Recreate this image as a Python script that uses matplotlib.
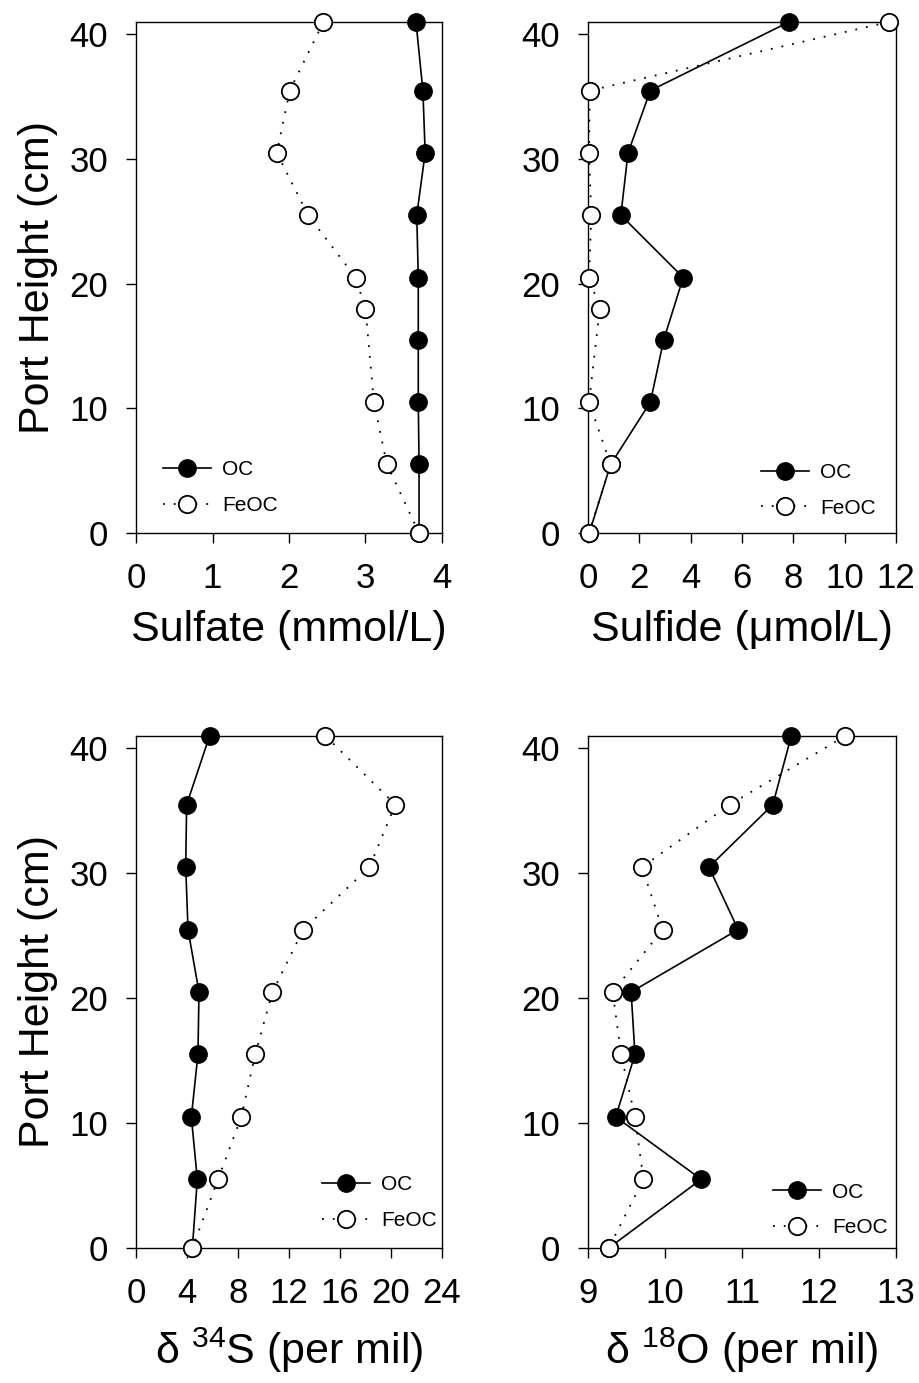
import matplotlib
matplotlib.use("Agg")
import matplotlib.pyplot as plt

plt.rcParams['font.family'] = ['Liberation Sans', 'DejaVu Sans']
plt.rcParams['mathtext.fontset'] = 'custom'
plt.rcParams['mathtext.rm'] = 'Liberation Sans'
plt.rcParams['mathtext.default'] = 'regular'

# port heights (cm)
h_oc = [41, 35.5, 30.5, 25.5, 20.5, 15.5, 10.5, 5.5, 0]
h_fe_a = [41, 35.5, 30.5, 25.5, 20.5, 18, 10.5, 5.5, 0]   # sulfate / sulfide FeOC ports
h_fe_b = [41, 35.5, 30.5, 25.5, 20.5, 15.5, 10.5, 5.5, 0]  # isotope FeOC ports

sulfate_oc = [3.66, 3.75, 3.78, 3.67, 3.69, 3.69, 3.69, 3.70, 3.70]
sulfate_fe = [2.45, 2.01, 1.84, 2.25, 2.87, 3.00, 3.11, 3.28, 3.70]

sulfide_oc = [7.83, 2.43, 1.56, 1.28, 3.71, 2.95, 2.43, 0.88, 0.05]
sulfide_fe = [11.72, 0.07, 0.04, 0.13, 0.04, 0.46, 0.04, 0.88, 0.04]

d34s_oc = [5.77, 3.97, 3.90, 4.08, 4.94, 4.86, 4.34, 4.81, 4.42]
d34s_fe = [14.86, 20.34, 18.31, 13.12, 10.70, 9.35, 8.26, 6.44, 4.42]

d18o_oc = [11.64, 11.40, 10.57, 10.95, 9.56, 9.61, 9.36, 10.47, 9.27]
d18o_fe = [12.34, 10.84, 9.70, 9.97, 9.32, 9.43, 9.61, 9.72, 9.27]

fig = plt.figure(figsize=(9.2, 13.83), dpi=100)

W, H = 920, 1383
def box(x0, x1, ytop, ybot):
    return [x0 / W, 1 - ybot / H, (x1 - x0) / W, (ybot - ytop) / H]

panels = [
    (box(136, 442, 22, 533), sulfate_oc, h_oc, sulfate_fe, h_fe_a, (0, 4), range(0, 5),
     'Sulfate (mmol/L)', True, 'lower left', (0.088, 0.035)),
    (box(588, 896, 22, 533), sulfide_oc, h_oc, sulfide_fe, h_fe_a, (0, 12), range(0, 13, 2),
     'Sulfide (\u03bcmol/L)', False, 'lower right', (0.935, 0.03)),
    (box(136, 442, 736, 1248), d34s_oc, h_oc, d34s_fe, h_fe_b, (0, 24), range(0, 25, 4),
     '\u03b4 $^{34}$S (per mil)', True, 'lower right', (0.984, 0.035)),
    (box(588, 896, 736, 1248), d18o_oc, h_oc, d18o_fe, h_fe_b, (9, 13), range(9, 14),
     '\u03b4 $^{18}$O (per mil)', False, 'lower right', (0.974, 0.021)),
]

for rect, xo, yo, xf, yf, xlim, xt, xlabel, ylab, loc, anchor in panels:
    ax = fig.add_axes(rect)
    ax.plot(xo, yo, color='black', linewidth=1.2, marker='o', markersize=12.5,
            markerfacecolor='black', markeredgecolor='black', label='OC', clip_on=False, zorder=3)
    ax.plot(xf, yf, color='black', linewidth=1.3, linestyle=(0, (1, 5)), marker='o', markersize=12.5,
            markerfacecolor='white', markeredgecolor='black', markeredgewidth=1.3,
            label='FeOC', clip_on=False, zorder=4)
    ax.set_xlim(*xlim)
    ax.set_ylim(0, 41)
    ax.set_xticks(list(xt))
    ax.set_yticks([0, 10, 20, 30, 40])
    ax.tick_params(direction='out', length=7, width=1, labelsize=25, top=False, right=False)
    ax.tick_params(axis='x', pad=14)
    ax.tick_params(axis='y', pad=13)
    ax.set_xlabel(xlabel, fontsize=31, labelpad=11)
    if ylab:
        ax.set_ylabel('Port Height (cm)', fontsize=31, labelpad=8)
    for s in ax.spines.values():
        s.set_linewidth(1)
    ax.legend(loc=loc, bbox_to_anchor=anchor, frameon=False, fontsize=15, handlelength=2.3,
              handletextpad=0.55, borderpad=0, borderaxespad=0, labelspacing=0.8)

plt.savefig('out.png', dpi=100)
